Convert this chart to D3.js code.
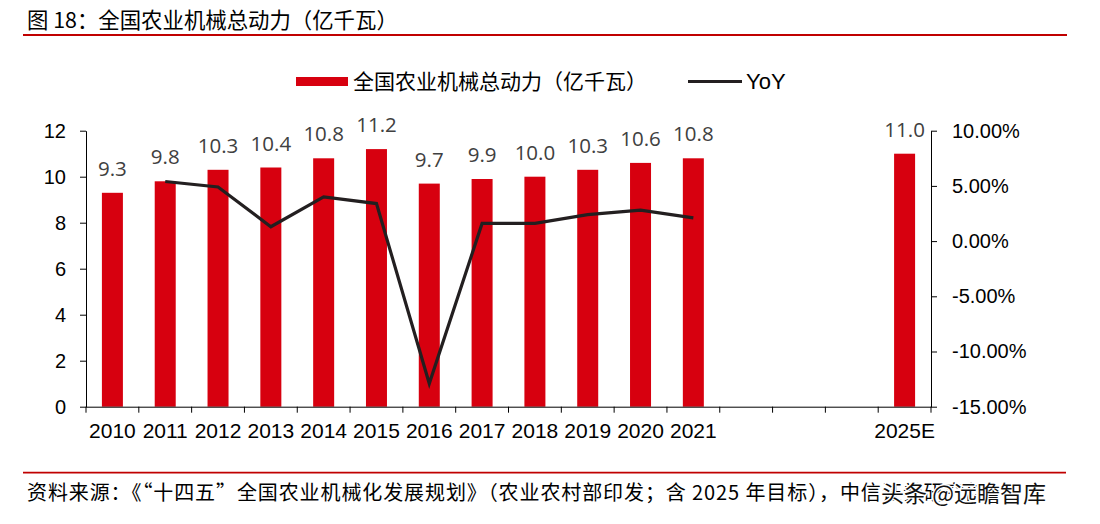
<!DOCTYPE html>
<html>
<head>
<meta charset="utf-8">
<script src="https://cdn.jsdelivr.net/npm/d3@7"></script>
<style>
  body { margin: 0; background: #fff; }
  svg { display: block; }
</style>
</head>
<body>
<script>
// categories on the x axis (2022-2024 slots are empty in the source)
var years = ['2010', '2011', '2012', '2013', '2014', '2015', '2016', '2017',
             '2018', '2019', '2020', '2021', '2022', '2023', '2024', '2025E'];
var tickLabels = ['2010', '2011', '2012', '2013', '2014', '2015', '2016', '2017',
                  '2018', '2019', '2020', '2021', '', '', '', '2025E'];
// total power, 100 million kW
var power = [9.3, 9.8, 10.3, 10.4, 10.8, 11.2, 9.7, 9.9, 10.0, 10.3, 10.6, 10.8,
             null, null, null, 11.0];
// YoY growth, %
var yoy = [null, 5.4, 4.9, 1.3, 4.0, 3.4, -12.9, 1.6, 1.6, 2.4, 2.8, 2.1,
           null, null, null, null];
var leftTicks = [0, 2, 4, 6, 8, 10, 12];
var rightTicks = [-15, -10, -5, 0, 5, 10];

var width = 1100,
    height = 524,
    plotLeft = 86,
    plotRight = 931,
    plotTop = 130.7,
    plotBottom = 406.7,
    red = '#d7000f',
    cn = '"Noto Sans CJK SC", "Liberation Sans", Arial, sans-serif',
    num = '"Liberation Sans", Arial, sans-serif';

var svg = d3.select('body')
    .append('svg')
    .attr('width', width)
    .attr('height', height);

// title and red rules
svg.append('text')
    .attr('x', 27)
    .attr('y', 28)
    .attr('font-family', cn)
    .attr('font-size', '21.4px')
    .attr('fill', '#000')
    .text('图 18：全国农业机械总动力（亿千瓦）');

svg.append('line')
    .attr('x1', 23).attr('x2', 1067)
    .attr('y1', 35).attr('y2', 35)
    .attr('stroke', '#c00000')
    .attr('stroke-width', 1.8);

svg.append('line')
    .attr('x1', 23).attr('x2', 1066)
    .attr('y1', 472.7).attr('y2', 472.7)
    .attr('stroke', '#c00000')
    .attr('stroke-width', 1.8);

svg.append('text')
    .attr('x', 27)
    .attr('y', 500)
    .attr('font-family', cn)
    .attr('font-size', '20px')
    .attr('letter-spacing', '0.9px')
    .attr('fill', '#000')
    .text('资料来源：《“十四五”全国农业机械化发展规划》（农业农村部印发；含 2025 年目标），中信证券研究部');

// watermark
svg.append('text')
    .attr('x', 881)
    .attr('y', 502)
    .attr('font-family', cn)
    .attr('font-size', '23px')
    .attr('fill', '#111')
    .attr('stroke', '#fff')
    .attr('stroke-width', 3)
    .attr('paint-order', 'stroke')
    .text('头条 @远瞻智库');

// scales
var band = d3.scaleBand()
    .domain(years)
    .range([plotLeft, plotRight]);

var y = d3.scaleLinear()
    .domain([0, 12])
    .range([plotBottom, plotTop]);

var y2 = d3.scaleLinear()
    .domain([-15, 10])
    .range([plotBottom, plotTop]);

// bars
var barData = years.map(function(d, i) { return {year: d, value: power[i]}; })
    .filter(function(d) { return d.value !== null; });

svg.append('g')
    .selectAll('rect')
    .data(barData)
    .enter()
    .append('rect')
    .attr('x', function(d) { return band(d.year) + (band.bandwidth() - 21) / 2; })
    .attr('y', function(d) { return y(d.value); })
    .attr('width', 21)
    .attr('height', function(d) { return plotBottom - y(d.value); })
    .attr('fill', red);

svg.append('g')
    .selectAll('text')
    .data(barData)
    .enter()
    .append('text')
    .attr('x', function(d) { return band(d.year) + band.bandwidth() / 2; })
    .attr('y', function(d) { return y(d.value) - 17; })
    .attr('text-anchor', 'middle')
    .attr('font-family', '"Open Sans", "DejaVu Sans", sans-serif')
    .attr('font-size', '20.5px')
    .attr('fill', '#404040')
    .text(function(d) { return d.value.toFixed(1); });

// YoY line
var lineData = years.map(function(d, i) { return {year: d, value: yoy[i]}; })
    .filter(function(d) { return d.value !== null; });

svg.append('path')
    .datum(lineData)
    .attr('fill', 'none')
    .attr('stroke', '#231f20')
    .attr('stroke-width', 3.2)
    .attr('stroke-linejoin', 'miter')
    .attr('d', d3.line()
        .x(function(d) { return band(d.year) + band.bandwidth() / 2; })
        .y(function(d) { return y2(d.value); }));

// axes
var xAxis = svg.append('g')
    .attr('transform', 'translate(0,' + plotBottom + ')')
    .call(d3.axisBottom(band).tickSize(0).tickFormat(function(d, i) { return tickLabels[i]; }));
xAxis.select('.domain').attr('stroke', '#000').attr('d', 'M' + plotLeft + ',0.5H' + plotRight);
xAxis.selectAll('text')
    .attr('font-family', '"Liberation Sans Narrow", "Arial Narrow", ' + num)
    .attr('font-size', '21px')
    .attr('fill', '#000')
    .attr('y', 31)
    .attr('dy', 0);

// category boundary ticks under the axis
svg.append('g')
    .selectAll('line')
    .data(years.concat(['end']))
    .enter()
    .append('line')
    .attr('x1', function(d, i) { return plotLeft + i * band.step(); })
    .attr('x2', function(d, i) { return plotLeft + i * band.step(); })
    .attr('y1', plotBottom)
    .attr('y2', plotBottom + 6)
    .attr('stroke', '#000');

var yAxis = svg.append('g')
    .attr('transform', 'translate(' + plotLeft + ',0)')
    .call(d3.axisLeft(y).tickValues(leftTicks).tickSize(6).tickSizeOuter(0).tickPadding(14));
yAxis.selectAll('path, line').attr('stroke', '#000');
yAxis.selectAll('text')
    .attr('font-family', num)
    .attr('font-size', '20px')
    .attr('fill', '#000');

var yAxis2 = svg.append('g')
    .attr('transform', 'translate(' + plotRight + ',0)')
    .call(d3.axisRight(y2).tickValues(rightTicks).tickSize(6).tickSizeOuter(0).tickPadding(15)
        .tickFormat(function(d) { return d.toFixed(2) + '%'; }));
yAxis2.selectAll('path, line').attr('stroke', '#000');
yAxis2.selectAll('text')
    .attr('font-family', num)
    .attr('font-size', '20px')
    .attr('fill', '#000');

// legend
var lg = svg.append('g');
lg.append('rect')
    .attr('x', 296).attr('y', 77)
    .attr('width', 52).attr('height', 9)
    .attr('fill', red);
lg.append('text')
    .attr('x', 353).attr('y', 89)
    .attr('font-family', cn)
    .attr('font-size', '21px')
    .attr('fill', '#000')
    .text('全国农业机械总动力（亿千瓦）');
lg.append('line')
    .attr('x1', 688).attr('x2', 742)
    .attr('y1', 81.5).attr('y2', 81.5)
    .attr('stroke', '#231f20')
    .attr('stroke-width', 3.2);
lg.append('text')
    .attr('x', 746).attr('y', 89)
    .attr('font-family', num)
    .attr('font-size', '22px')
    .attr('fill', '#000')
    .text('YoY');
</script>
</body>
</html>
